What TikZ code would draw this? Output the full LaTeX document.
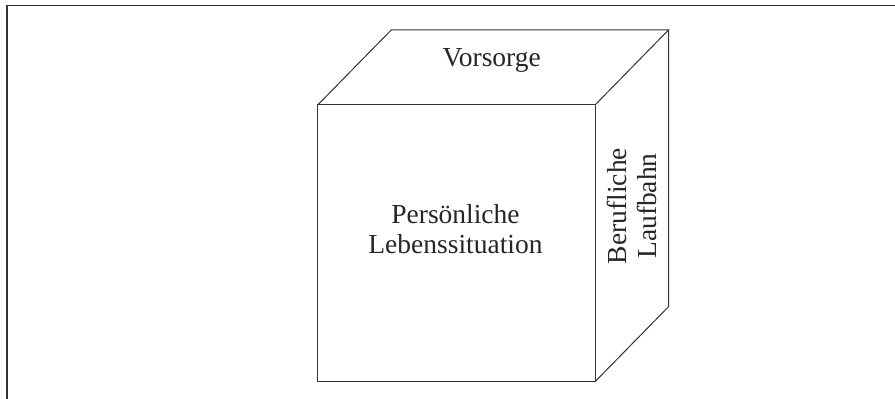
\documentclass[tikz,border=0pt]{standalone}
\usepackage{fontspec}
\setmainfont{Liberation Serif}
\begin{document}
\begin{tikzpicture}[x=1pt,y=1pt,
  edge/.style={draw=black!80,line width=1pt,line join=miter},
  lbl/.style={inner sep=0pt,align=center,font=\fontsize{27.5}{30}\selectfont,text=black!85}]
\useasboundingbox (0,0) rectangle (895,399);
% frame (top and left only)
\coordinate (fTL) at (7,393.5);
\coordinate (fTR) at (895,393.5);
\coordinate (fBL) at (7,0);
\draw[edge,line width=1.2pt] (fBL) -- (fTL) -- (fTR);
% cube corners
\coordinate (A) at (317.7,294);   % front top left
\coordinate (B) at (595,294);     % front top right
\coordinate (C) at (595,17.3);    % front bottom right
\coordinate (D) at (317.7,17.3);  % front bottom left
\coordinate (E) at (391.2,369);   % back top left
\coordinate (F) at (668.5,369);   % back top right
\coordinate (G) at (668.5,92.3);  % back bottom right
\draw[edge] (A) -- (B) -- (C) -- (D) -- cycle;
\draw[edge] (A) -- (E) -- (F) -- (B);
\draw[edge] (F) -- (G) -- (C);
% labels
\node[lbl,anchor=base] (top) at (491.7,332.3) {Vorsorge};
\node[lbl] (front) at (455.5,169.7) {Persönliche\\Lebenssituation};
\node[lbl,rotate=90] (side) at (632,193) {Berufliche\\Laufbahn};
\end{tikzpicture}
\end{document}
